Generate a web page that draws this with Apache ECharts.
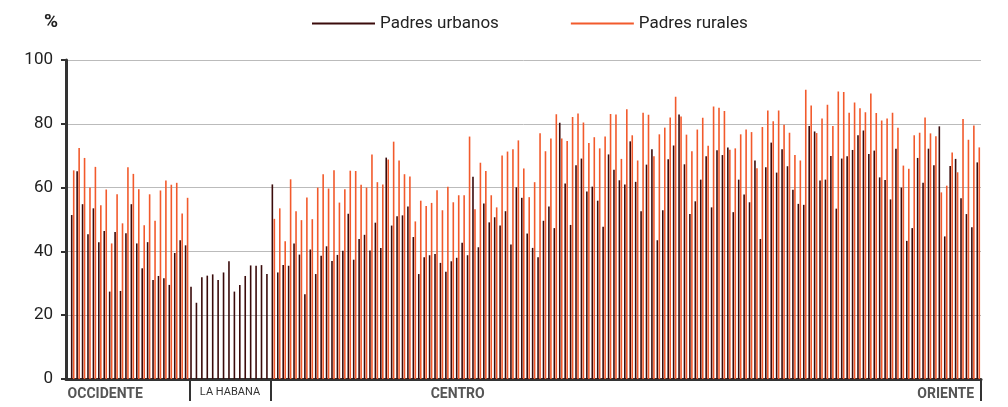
<!DOCTYPE html>
<html>
<head>
<meta charset="utf-8">
<script src="https://cdn.jsdelivr.net/npm/echarts@6/dist/echarts.min.js"></script>
<style>
  html, body { margin: 0; padding: 0; background: #fff; }
  #chart { width: 1008px; height: 407px; }
</style>
</head>
<body>
<div id="chart"></div>
<script>
// % de padres por municipio, de occidente a oriente
const urban = [
  // Occidente
  51.4, 65.1, 54.8, 45.4, 53.5, 42.9, 46.4, 27.4, 46.1, 27.6, 45.7, 54.8, 42.5, 34.7, 42.9, 31.0, 32.3, 31.6, 29.5, 39.5, 43.5, 41.9,
  // La Habana
  28.9, 23.9, 31.9, 32.4, 32.8, 31.0, 33.4, 36.9, 27.4, 29.5, 32.3, 35.6, 35.5, 35.7, 32.9,
  // Centro y Oriente
  61.0, 33.4, 35.7, 35.5,
  42.5, 39.0, 26.6, 40.6, 32.9, 38.6, 41.6, 37.0, 38.9, 40.2, 51.8, 37.4, 43.9, 45.2,
  40.3, 49.0, 41.1, 69.4, 48.1, 51.0, 51.3, 54.1, 44.5, 32.9, 38.2, 38.8, 39.2, 36.4,
  33.6, 36.9, 38.0, 42.7, 38.8, 63.4, 41.3, 55.0, 49.1, 50.7, 48.1, 52.6, 42.2, 60.1,
  56.8, 45.6, 41.1, 38.2, 49.6, 54.1, 47.3, 80.3, 61.3, 48.3, 67.0, 69.1, 58.8, 60.3, 55.9,
  47.7, 70.4, 65.6, 62.3, 61.0, 74.5, 61.8, 52.6, 67.2, 72.0, 43.5, 52.9, 68.9, 73.2,
  82.9, 67.3, 51.7, 55.7, 62.5, 69.8, 53.8, 71.7, 70.2, 72.6, 52.3, 62.5, 57.8, 55.4,
  68.5, 43.9, 66.4, 74.1, 64.7, 72.0, 66.7, 59.3, 54.9, 54.6, 79.3, 77.6, 62.2, 62.5,
  69.9, 53.4, 69.1, 69.8, 71.8, 76.4, 77.9, 70.5, 71.6, 63.2, 62.4, 56.3, 72.2, 60.0, 43.3,
  47.3, 69.3, 61.5, 72.2, 67.0, 79.2, 44.7, 66.8, 69.0, 56.7, 51.7, 47.6, 67.9
];

const rural = [
  // Occidente
  65.4, 72.4, 69.3, 60.0, 66.5, 54.5, 59.4, 42.5, 57.9, 48.8, 66.4, 64.3, 59.5, 48.2, 57.9, 49.6, 59.1, 62.2, 60.9, 61.5, 51.9, 56.8,
  // La Habana (sin zona rural)
  null, null, null, null, null, null, null, null, null, null, null, null, null, null, null,
  // Centro y Oriente
  50.2, 53.5, 43.2, 62.6,
  52.6, 49.8, 56.9, 50.1, 60.0, 64.2, 59.7, 65.4, 55.3, 59.5, 65.3, 65.2, 60.9, 60.0,
  70.4, 61.7, 61.0, 68.8, 74.4, 68.5, 64.2, 63.5, 49.4, 55.9, 54.2, 55.2, 59.2, 52.9,
  60.3, 55.4, 57.6, 57.6, 76.0, 53.2, 67.8, 65.2, 57.6, 53.8, 70.1, 71.3, 72.0, 74.8,
  66.0, 57.0, 61.7, 77.0, 71.4, 75.4, 83.0, 75.4, 74.6, 82.1, 83.2, 80.4, 74.0, 75.8, 72.3,
  76.0, 83.1, 82.9, 69.0, 84.6, 76.4, 68.5, 83.5, 82.8, 69.8, 76.7, 78.8, 82.0, 88.5,
  82.3, 76.6, 71.4, 78.2, 81.9, 73.1, 85.4, 85.0, 84.0, 71.9, 72.3, 76.7, 78.2, 77.4,
  66.1, 79.0, 84.2, 80.8, 84.2, 79.7, 77.2, 70.2, 68.5, 90.7, 85.7, 77.1, 81.7, 86.0,
  79.3, 90.1, 90.0, 83.5, 86.7, 84.9, 83.6, 89.5, 83.4, 81.0, 81.7, 83.5, 78.8, 66.9, 65.9,
  76.4, 77.2, 82.0, 77.0, 76.1, 58.5, 60.6, 71.0, 64.8, 81.5, 75.0, 79.5, 72.6
];

const categories = urban.map((v, i) => String(i + 1));
const seriesNames = ['Padres urbanos', 'Padres rurales'];
const regionLabels = { 6: 'OCCIDENTE', 29: 'LA HABANA', 71: 'CENTRO', 161: 'ORIENTE' };
const regionBreaks = [22, 37];
const yTicks = [0, 20, 40, 60, 80, 100];

const FONT = 'Roboto, "Noto Sans", sans-serif';

let mychart = echarts.init(document.getElementById('chart'));
let option = {
  animation: false,
  textStyle: { fontFamily: FONT },
  title: {
    text: '%',
    left: 39,
    top: 8,
    textStyle: { fontFamily: FONT, fontSize: 19, fontWeight: 'bold', color: '#222' }
  },
  legend: {
    left: 307,
    top: 10,
    icon: 'rect',
    itemWidth: 63,
    itemHeight: 2,
    itemGap: 72,
    textStyle: { fontFamily: FONT, fontSize: 17, color: '#222' },
    data: seriesNames
  },
  grid: [
    { left: 70, right: 27, top: 60, bottom: 28 },
    { left: 66, right: 27, top: 60, bottom: 28 }
  ],
  xAxis: [
    {
      type: 'category',
      gridIndex: 0,
      data: categories,
      axisLine: { show: false },
      axisTick: {
        show: true,
        length: 22,
        interval: (i) => regionBreaks.indexOf(i) >= 0,
        lineStyle: { color: '#333', width: 2 }
      },
      axisLabel: {
        show: true,
        margin: 8,
        interval: (i) => regionLabels[i] !== undefined,
        formatter: (v, i) => {
          const t = regionLabels[i] || '';
          return t === 'LA HABANA' ? '{s|' + t + '}' : '{b|' + t + '}';
        },
        rich: {
          b: { fontFamily: FONT, fontSize: 14, fontWeight: 'bold', color: '#555' },
          s: { fontFamily: FONT, fontSize: 11, color: '#333' }
        }
      }
    },
    {
      type: 'value',
      gridIndex: 1,
      min: 0,
      max: 1,
      axisLine: { show: true, lineStyle: { color: '#333', width: 3 } },
      axisTick: { show: false },
      axisLabel: { show: false },
      splitLine: { show: false }
    }
  ],
  yAxis: [
    { type: 'value', gridIndex: 0, min: 0, max: 100, interval: 20, show: false },
    {
      type: 'value',
      gridIndex: 1,
      min: yTicks[0],
      max: yTicks[yTicks.length - 1],
      interval: 20,
      axisLine: { show: true, lineStyle: { color: '#333', width: 3 } },
      axisTick: { show: true, length: 5, lineStyle: { color: '#333', width: 2 } },
      axisLabel: { fontFamily: FONT, fontSize: 17, color: '#222', margin: 13 },
      splitLine: { show: true, lineStyle: { color: '#bbb', width: 1 } }
    }
  ],
  series: [
    {
      name: seriesNames[0],
      type: 'bar',
      xAxisIndex: 0,
      yAxisIndex: 0,
      barWidth: 1.6,
      barGap: '25%',
      itemStyle: { color: '#3a0b0b' },
      data: urban
    },
    {
      name: seriesNames[1],
      type: 'bar',
      xAxisIndex: 0,
      yAxisIndex: 0,
      barWidth: 1.6,
      barGap: '25%',
      itemStyle: { color: '#f25a2c' },
      data: rural
    }
  ]
};
mychart.setOption(option);
</script>
</body>
</html>
